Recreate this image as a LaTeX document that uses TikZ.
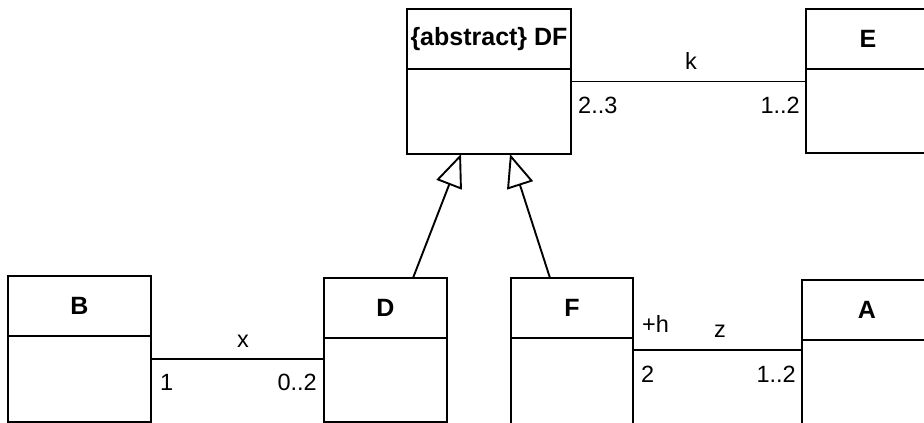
\documentclass[tikz,border=0pt]{standalone}
\usepackage{fontspec}
\setmainfont{Liberation Sans}
\usetikzlibrary{arrows.meta,calc}
\tikzset{
  umlbox/.style={draw, line width=1.9pt, rectangle, anchor=north west, inner sep=0pt, outer sep=0pt},
  umltitle/.style={font=\bfseries\fontsize{25}{29}\selectfont, inner sep=0pt},
  lbl/.style={font=\fontsize{23.5}{28}\selectfont, inner sep=0pt},
  conn/.style={line width=1.9pt},
  gen/.style={line width=1.9pt, -{Triangle[open,length=33pt,width=27pt]}},
}
\newcommand\umlclass[7]{%
  \node[umlbox, minimum width=#4pt, minimum height=#5pt] (#1) at (#2,#3) {};
  \node[umltitle] (#1-t) at ($(#1.north)+(0,#6/2)$) {#7};
  \draw[conn] ($(#1.north west)+(0,#6)$) -- ($(#1.north east)+(0,#6)$);
}
\begin{document}
\begin{tikzpicture}[x=1pt,y=-1pt]
\useasboundingbox (0,0) rectangle (924,423);
\clip (0,0) rectangle (924,423);
\fill[white] (0,0) rectangle (924,423);

\umlclass{DF}{407}{9}{164}{145}{60}{\{abstract\} DF}
\umlclass{E}{806}{9}{124}{144}{60}{E}
\umlclass{B}{8}{276}{143}{146}{60}{B}
\umlclass{D}{324}{278}{123}{144}{60}{D}
\umlclass{F}{511}{278}{122}{150}{60}{F}
\umlclass{A}{802}{280}{130}{150}{60}{A}

% association k
\draw[conn] (DF.east) -- (DF.east -| E.west);
\node[lbl] (k) at (691,61) {k};
\node[lbl, anchor=west] (k1) at (578,105) {2..3};
\node[lbl, anchor=east] (k2) at (800,105) {1..2};

% association x
\coordinate (xs) at ($(B.east)+(0,10)$);
\draw[conn] (xs) -- (xs -| D.west);
\node[lbl] (xl) at (243,341) {x};
\node[lbl, anchor=west] (x1) at (160,382) {1};
\node[lbl, anchor=east] (x2) at (317,382) {0..2};

% association z
\coordinate (zs) at ($(F.east)+(0,-3)$);
\draw[conn] (zs) -- (zs -| A.west);
\node[lbl] (zl) at (720,331) {z};
\node[lbl, anchor=west] (zh) at (642,324) {+h};
\node[lbl, anchor=west] (z1) at (641,374) {2};
\node[lbl, anchor=east] (z2) at (796,374) {1..2};

% generalizations
\draw[gen] ($(D.north west)+(89,0)$) -- ($(DF.south west)+(54,0)$);
\draw[gen] ($(F.north west)+(39,0)$) -- ($(DF.south west)+(103,0)$);
\end{tikzpicture}
\end{document}
